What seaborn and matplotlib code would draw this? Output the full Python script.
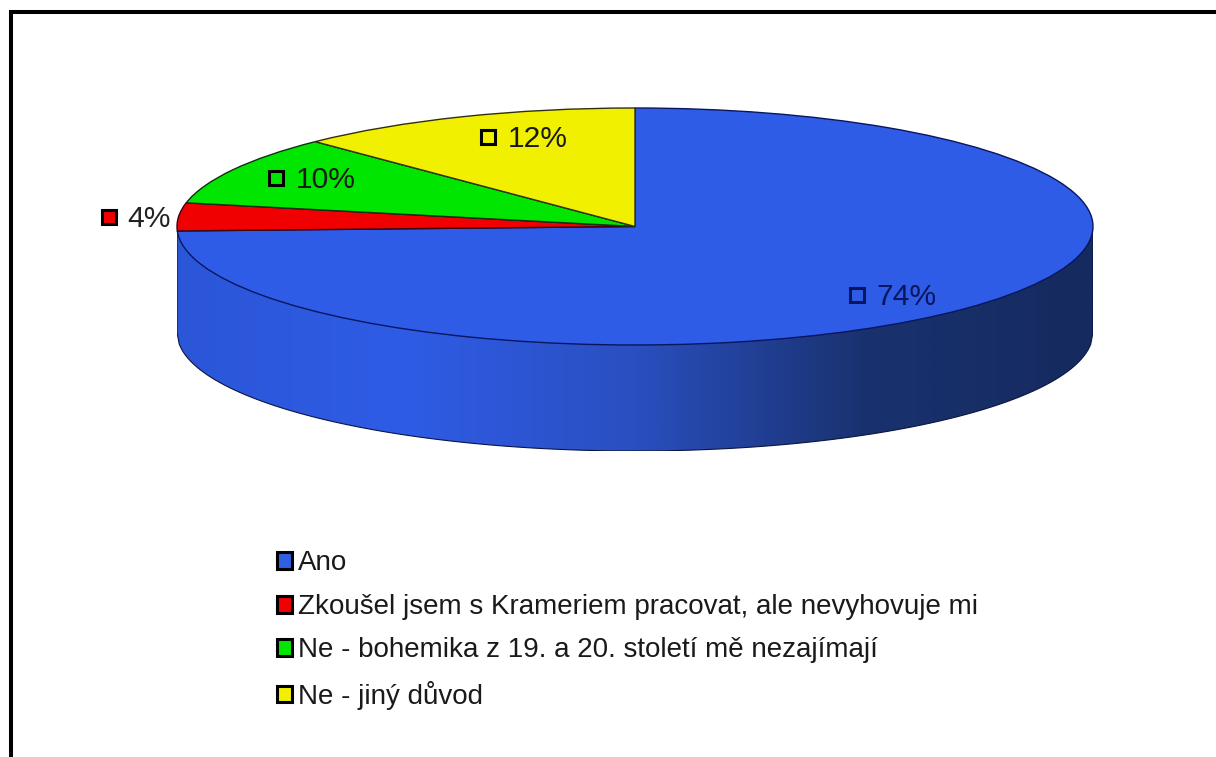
import numpy as np
import matplotlib
matplotlib.use('Agg')

from matplotlib import pyplot as plt
from matplotlib.patches import Patch
import seaborn as sns

#==============================================================================

categories = ['Ano',
              'Zkoušel jsem s Krameriem pracovat, ale nevyhovuje mi',
              'Ne - bohemika z 19. a 20. století mě nezajímají',
              'Ne - jiný důvod']
shares = [74.4, 3.8, 9.5, 12.3]
share_labels = ['74%', '4%', '10%', '12%']
colors = ['#2e5ce6', '#f00000', '#00e600', '#f0f000']
legend_colors = ['#3060e0', '#f00000', '#00e600', '#f0f000']
edge_colors = ['#0a1560', '#3a0010', '#103010', '#303010']
side_stops = ['#2b56d8', '#2f5ce6', '#2a4fc0', '#19326f', '#152a5e']

W, H = 1216, 757
PIE_LEFT, PIE_RIGHT, PIE_TOP, PIE_BOTTOM = 177, 1093, 108, 345
DEPTH = 106 / 118.5

sns.set_theme(style='white')
plt.rcParams['font.family'] = ['Liberation Sans', 'DejaVu Sans']

fig = plt.figure(figsize=(W / 100, H / 100), dpi=100, facecolor='white')

# pie axes: x -1..1 spans the ellipse, extra room below for the side wall
ax = fig.add_axes([PIE_LEFT / W, 1 - (PIE_BOTTOM + DEPTH * 118.5) / H,
                   (PIE_RIGHT - PIE_LEFT) / W,
                   (PIE_BOTTOM + DEPTH * 118.5 - PIE_TOP) / H])

wedges, _ = ax.pie(shares, colors=colors, startangle=90, counterclock=False,
                   wedgeprops={'linewidth': 1.0, 'zorder': 3})
for wedge, edge in zip(wedges, edge_colors):
    wedge.set_edgecolor(edge)

ax.set_aspect('auto')
ax.set_axis_off()

# side wall of the 3D pie
xs = np.linspace(-1, 1, 400)
lower = -np.sqrt(1 - xs ** 2) - DEPTH
wall = ax.fill_between(xs, lower, 0, facecolor='none', edgecolor='#0a1540',
                       linewidth=0.8, zorder=2)
cmap = sns.blend_palette(side_stops, as_cmap=True)
img = ax.imshow(np.linspace(0, 1, 512)[None, :], cmap=cmap, aspect='auto',
                extent=(-1, 1, -1 - DEPTH, 0), zorder=1)
img.set_clip_path(wall.get_paths()[0], ax.transData)
ax.set_xlim(-1, 1)
ax.set_ylim(-1 - DEPTH, 1)

# overlay in image pixels for the frame and the data labels
over = fig.add_axes([0, 0, 1, 1], facecolor='none')
over.set_xlim(0, W)
over.set_ylim(H, 0)
over.set_axis_off()
over.plot([11, 11, W], [H, 12, 12], color='black', linewidth=2.9,
          solid_joinstyle='miter', clip_on=False)

label_anchor = [(857, 295), (109, 217), (276, 178), (488, 137)]
label_x = [877, 127, 296, 508]
label_ink = ['#0a1560', '#222222', '#1a1a1a', '#1a1a1a']
for i, lab in enumerate(share_labels):
    mx, my = label_anchor[i]
    over.plot([mx], [my], marker='s', markersize=10.5, markerfacecolor=colors[i],
              markeredgecolor='#0a1560' if i == 0 else 'black',
              markeredgewidth=2.2, linestyle='none')
    over.text(label_x[i], my - 1, lab, fontsize=21.6, color=label_ink[i],
              ha='left', va='center_baseline')

handles = [Patch(facecolor=c, edgecolor='black', linewidth=2.2) for c in legend_colors]
fig.legend(handles, categories, loc='upper left',
           bbox_to_anchor=(277 / W, 1 - 550.5 / H), frameon=False,
           fontsize=19.95, labelcolor='#1a1a1a', handlelength=0.55, handleheight=0.55,
           handletextpad=0.2, labelspacing=0.63, borderpad=0, borderaxespad=0)

plt.savefig('out.png', dpi=100, facecolor='white')
